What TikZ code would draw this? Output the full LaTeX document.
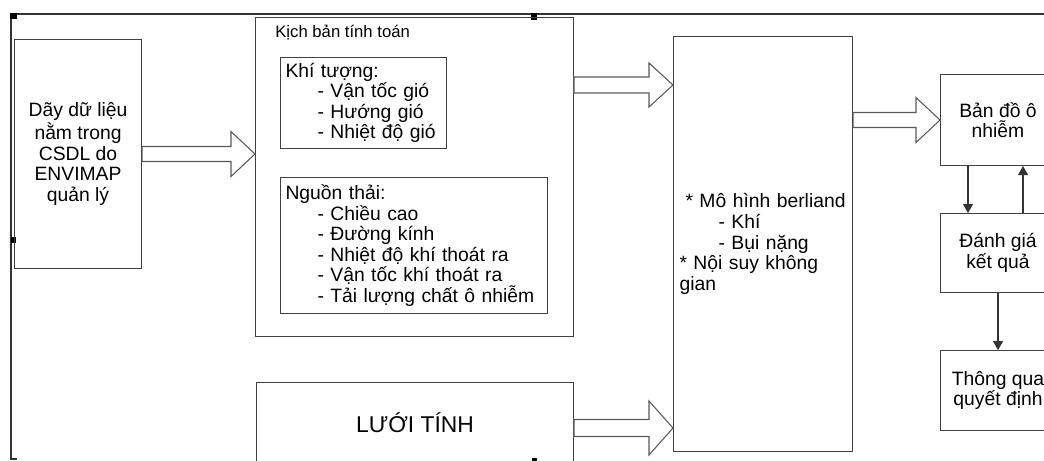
\documentclass[tikz,border=0pt]{standalone}
\usepackage{fontspec}
\setmainfont{Liberation Sans}
\usetikzlibrary{arrows.meta,positioning,calc}

% hollow block arrow: start, tip, shaft half width, head half width
\newcommand{\hollowarrow}[4]{%
  \draw[blockarrow] ($(#1)+(0,-#3)$) -- ($(#2)+(-24,-#3)$) -- ($(#2)+(-24,-#4)$) -- (#2)
    -- ($(#2)+(-24,#4)$) -- ($(#2)+(-24,#3)$) -- ($(#1)+(0,#3)$) -- cycle;}

\begin{document}
\begin{tikzpicture}[x=0.02cm,y=-0.02cm,node distance=0.94cm]
      \tikzstyle{box}=[draw=black!75,line width=0.6pt,rectangle,inner sep=0pt,font=\fontsize{11}{11.7}\selectfont]
      \tikzstyle{blockarrow}=[draw=black!65,line width=0.6pt,fill=white,line join=miter]
      \tikzstyle{link}=[draw=black!80,line width=0.6pt,-{Triangle[length=1.8mm,width=2mm]}]
      \clip (0,0) rectangle (1044,460);
      % frame and handles
      \draw[black!80,line width=0.6pt] (17,459) -- (11,459) -- (11,14) -- (1044,14);
      \fill (10,13) rectangle (17,19);
      \fill (11,237) rectangle (16,243);
      \fill (531,13) rectangle (537,20);
      \fill (532,458) rectangle (537,461);
      % boxes
      \node[box,anchor=north west,minimum width=2.54cm,minimum height=4.58cm,align=center] (data) at (14,39)
        {Dãy dữ liệu\\nằm trong\\CSDL do\\ENVIMAP\\quản lý};
      \node[box,anchor=north west,minimum width=6.36cm,minimum height=6.38cm] (kb) at (255,17) {};
      \node[anchor=west,inner sep=0pt,font=\fontsize{9.5}{11}\selectfont] (kbt) at (275,33) {Kịch bản tính toán};
      \node[box,anchor=north west,minimum width=3.32cm,minimum height=1.82cm,text width=3.12cm,align=left] (kt) at (280,57)
        {Khí tượng:\\\hspace*{0.64cm}- Vận tốc gió\\\hspace*{0.64cm}- Hướng gió\\\hspace*{0.64cm}- Nhiệt độ gió};
      \node[box,anchor=north west,minimum width=5.34cm,minimum height=2.72cm,text width=5.14cm,align=left] (nt) at (280,177)
        {Nguồn thải:\\\hspace*{0.64cm}- Chiều cao\\\hspace*{0.64cm}- Đường kính\\\hspace*{0.64cm}- Nhiệt độ khí thoát ra\\\hspace*{0.64cm}- Vận tốc khí thoát ra\\\hspace*{0.64cm}- Tải lượng chất ô nhiễm};
      \node[box,anchor=north west,minimum width=6.34cm,minimum height=1.62cm,font=\fontsize{13}{16}\selectfont] (grid) at (256,382) {LƯỚI TÍNH};
      \node[box,anchor=north west,minimum width=3.58cm,minimum height=8.3cm,text width=3.34cm,align=left] (model) at (673,36)
        {\hspace*{0.12cm}* Mô hình berliand\\\hspace*{0.78cm}- Khí\\\hspace*{0.78cm}- Bụi nặng\\{}* Nội suy không\\gian};
      \node[box,anchor=north west,minimum width=2.3cm,minimum height=1.82cm,align=center] (map) at (940,74) {Bản đồ ô\\nhiễm};
      \node[box,below=of map,minimum width=2.3cm,minimum height=1.58cm,align=center] (eval) {Đánh giá\\kết quả};
      \node[box,below=1.14cm of eval,minimum width=2.3cm,minimum height=1.6cm,align=center] (dec) {Thông qua\\quyết định};
      % block arrows
      \coordinate (a1s) at (data.east);
      \coordinate (a1t) at (kb.west |- a1s);
      \coordinate (a2s) at ($(kb.north east)+(0,68)$);
      \coordinate (a2t) at (model.west |- a2s);
      \coordinate (a3s) at (model.east |- map.west);
      \coordinate (a3t) at (map.west);
      \coordinate (a4s) at ($(grid.north east)+(0,46)$);
      \coordinate (a4t) at (model.west |- a4s);
      \hollowarrow{a1s}{a1t}{7.5}{22.5}
      \hollowarrow{a2s}{a2t}{8}{22}
      \hollowarrow{a3s}{a3t}{7.5}{22.5}
      \hollowarrow{a4s}{a4t}{8.5}{27}
      % small arrows
      \draw[link] ($(map.south west)+(28,0)$) -- ($(eval.north west)+(28,0)$);
      \draw[link] ($(eval.north west)+(83,0)$) -- ($(map.south west)+(83,0)$);
      \draw[link] ($(eval.south west)+(58,0)$) -- ($(dec.north west)+(58,0)$);
    \end{tikzpicture}
\end{document}
